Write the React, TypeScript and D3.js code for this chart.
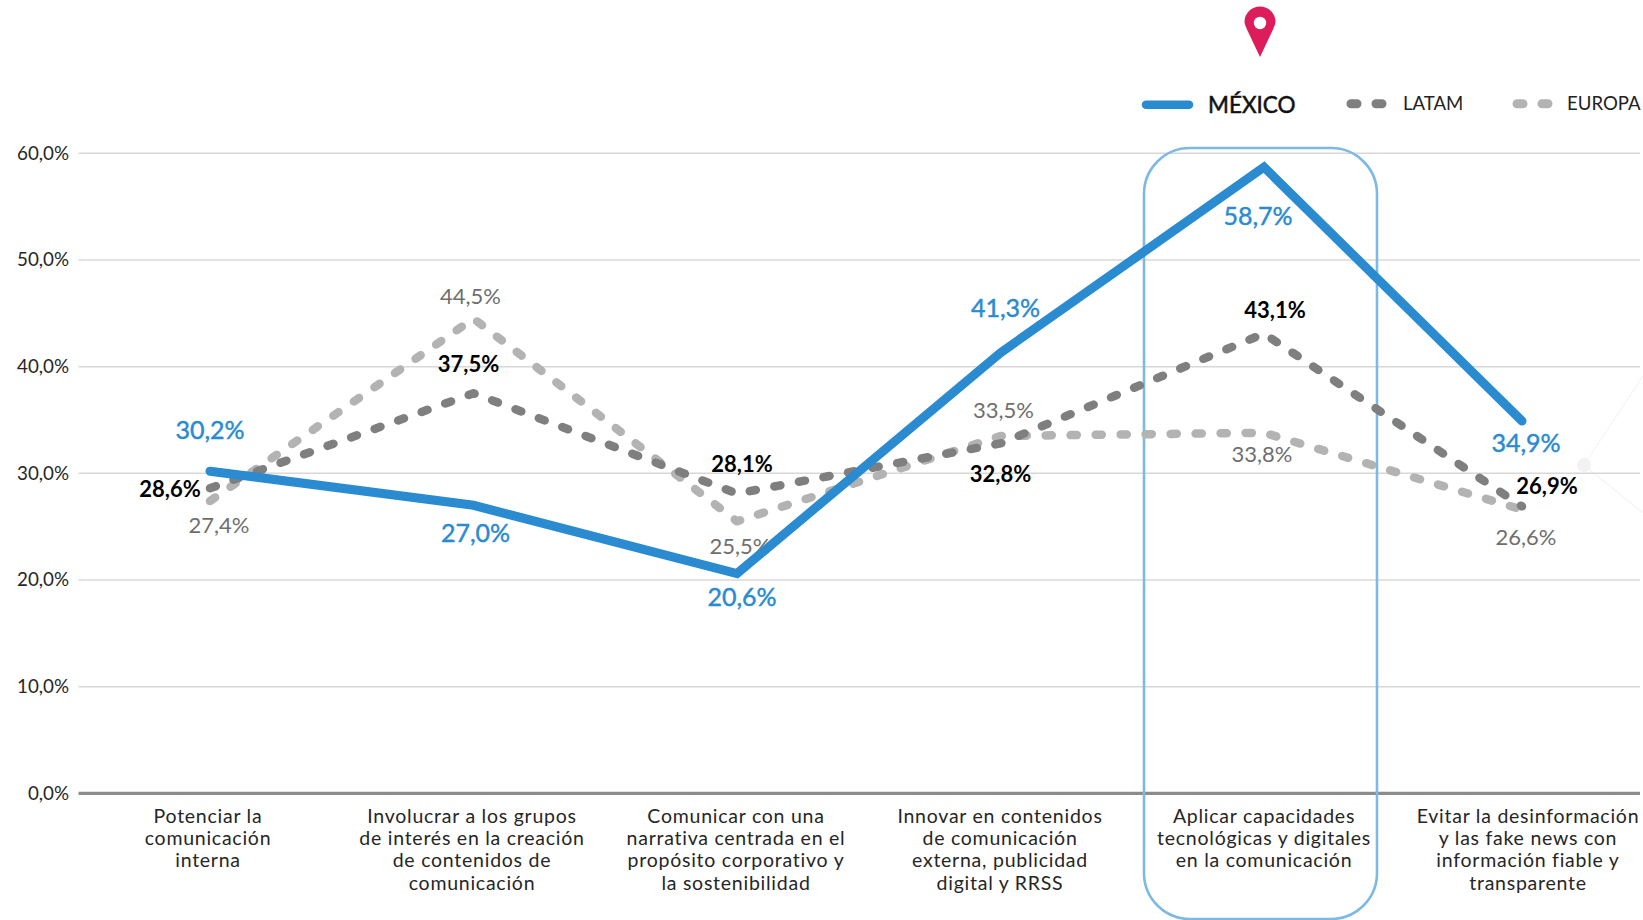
import React from "react";
import * as d3 from "d3";

// Survey answers per communication priority, in percent.
const categories: string[][] = [
  ["Potenciar la", "comunicación", "interna"],
  ["Involucrar a los grupos", "de interés en la creación", "de contenidos de", "comunicación"],
  ["Comunicar con una", "narrativa centrada en el", "propósito corporativo y", "la sostenibilidad"],
  ["Innovar en contenidos", "de comunicación", "externa, publicidad", "digital y RRSS"],
  ["Aplicar capacidades", "tecnológicas y digitales", "en la comunicación"],
  ["Evitar la desinformación", "y las fake news con", "información fiable y", "transparente"],
];
const mexico = [30.2, 27.0, 20.6, 41.3, 58.7, 34.9];
const latam = [28.6, 37.5, 28.1, 32.8, 43.1, 26.9];
const europa = [27.4, 44.5, 25.5, 33.5, 33.8, 26.6];
const yTicks = [0, 10, 20, 30, 40, 50, 60];

const WIDTH = 1643;
const HEIGHT = 920;
const FONT = "Lato, 'Open Sans', sans-serif";
const BLUE = "#2a8bd0";
const DARK_DASH = "#7f7f7f";
const LIGHT_DASH = "#b3b3b3";
const DASH = "6.2 18.8";

const comma = (v: number, digits = 1) => `${v.toFixed(digits).replace(".", ",")}%`;

// Hand-tuned label offsets so the value labels avoid the lines.
const mexicoOffsets = [[0, -32], [2, 37], [5, 32], [5, -36], [-6, 58], [4, 31]];
const latamOffsets = [[-40, 9], [-5, -21], [5, -22], [0, 39], [11, -16], [25, -12]];
const europaOffsets = [[9, 32], [-3, -15], [3, 33], [3, -18], [-2, 29], [4, 35]];

const x = d3.scaleLinear().domain([0, 4, 5]).range([210, 1264, 1522]);
const labelX = d3.scaleLinear().domain([0, 5]).range([208, 1528]);
const y = d3.scaleLinear().domain([0, 60]).range([793.3, 153.3]);
const path = d3
  .line<number>()
  .x((_, i) => x(i))
  .y((d) => y(d))
  .curve(d3.curveLinear);

function ValueLabels({
  values,
  offsets,
  fill,
  size,
  weight,
  thicken = 0,
}: {
  values: number[];
  offsets: number[][];
  fill: string;
  size: number;
  weight: number;
  thicken?: number;
}) {
  return (
    <g fill={fill} fontSize={size} fontWeight={weight} textAnchor="middle" stroke={thicken ? fill : "none"} strokeWidth={thicken}>
      {values.map((v, i) => (
        <text key={i} x={x(i) + offsets[i][0]} y={y(v) + offsets[i][1]}>
          {comma(v)}
        </text>
      ))}
    </g>
  );
}

export default function App() {
  return (
    <svg
      width={WIDTH}
      height={HEIGHT}
      viewBox={`0 0 ${WIDTH} ${HEIGHT}`}
      style={{ position: "absolute", left: 0, top: 0, display: "block", background: "#fff" }}
      fontFamily={FONT}
    >
      {/* Faint decorative network node at the right edge */}
      <g stroke="#f4f4f4" strokeWidth={1.2} fill="none">
        <path d="M1584 465 L1643 376" />
        <path d="M1584 465 L1643 513" />
      </g>
      <circle cx={1584} cy={465} r={7} fill="#f2f2f2" />

      {/* Grid and value axis */}
      {yTicks.map((t) => (
        <g key={t}>
          <line
            x1={78.5}
            x2={1640}
            y1={y(t)}
            y2={y(t)}
            stroke={t === 0 ? "#8c8c8c" : "#d8d8d8"}
            strokeWidth={t === 0 ? 3.2 : 1.5}
          />
          <text x={69} y={y(t) + 6.5} textAnchor="end" fontSize={18.8} fill="#262626">
            {comma(t)}
          </text>
        </g>
      ))}

      {/* Category labels */}
      <g fontSize={19.5} fill="#262626" textAnchor="middle" letterSpacing={0.75}>
        {categories.map((lines, i) => (
          <text key={i} x={labelX(i)} y={822.5}>
            {lines.map((line, j) => (
              <tspan key={j} x={labelX(i)} dy={j === 0 ? 0 : 22.4}>
                {line}
              </tspan>
            ))}
          </text>
        ))}
      </g>

      {/* Highlight around the fifth category */}
      <rect
        x={1144}
        y={148}
        width={233}
        height={771}
        rx={46}
        ry={46}
        fill="none"
        stroke="#7db9e5"
        strokeWidth={2.6}
      />

      <ValueLabels values={europa} offsets={europaOffsets} fill="#6e6e6e" size={22} weight={400} />

      {/* Series */}
      <path
        d={path(europa) ?? ""}
        fill="none"
        stroke={LIGHT_DASH}
        strokeWidth={8.5}
        strokeLinecap="round"
        strokeLinejoin="round"
        strokeDasharray={DASH}
      />
      <path
        d={path(latam) ?? ""}
        fill="none"
        stroke={DARK_DASH}
        strokeWidth={8.5}
        strokeLinecap="round"
        strokeLinejoin="round"
        strokeDasharray={DASH}
      />
      <path
        d={path(mexico) ?? ""}
        fill="none"
        stroke={BLUE}
        strokeWidth={9}
        strokeLinecap="round"
        strokeLinejoin="miter"
      />

      <ValueLabels values={latam} offsets={latamOffsets} fill="#000" size={22} weight={700} />
      <ValueLabels values={mexico} offsets={mexicoOffsets} fill={BLUE} size={25} weight={400} thicken={0.45} />

      {/* Location pin above the highlighted category */}
      <g transform="translate(1260,7)">
        <path
          d="M0 50 L-13 22.5 C-15.5 17 -15.5 15 -15.5 15 A15.5 15.5 0 1 1 15.5 15 C15.5 15 15.5 17 13 22.5 Z"
          fill="#dd1c5b"
        />
        <circle cx={0} cy={16} r={6.2} fill="#fff" />
      </g>

      {/* Legend */}
      <line x1={1146} x2={1189} y1={104.8} y2={104.8} stroke={BLUE} strokeWidth={8.5} strokeLinecap="round" />
      <text x={1208} y={113} fontSize={22.5} fontWeight={400} fill="#111" stroke="#111" strokeWidth={0.5}>
        MÉXICO
      </text>
      <line x1={1351} x2={1385} y1={103.7} y2={103.7} stroke={DARK_DASH} strokeWidth={9} strokeLinecap="round" strokeDasharray="6 19" />
      <text x={1403} y={110} fontSize={18.6} fill="#222">
        LATAM
      </text>
      <line x1={1517} x2={1551} y1={103.7} y2={103.7} stroke={LIGHT_DASH} strokeWidth={9} strokeLinecap="round" strokeDasharray="6 19" />
      <text x={1567} y={110} fontSize={18.6} fill="#222">
        EUROPA
      </text>
    </svg>
  );
}
